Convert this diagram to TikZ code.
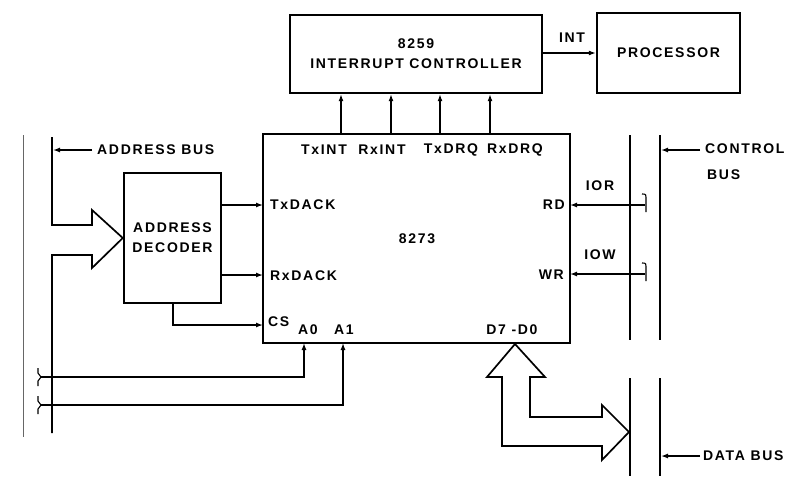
\documentclass[tikz,border=0pt]{standalone}
\usepackage{fontspec}
\setmainfont{Liberation Sans}[LetterSpace=12]
\usetikzlibrary{arrows.meta}
\newcommand\lblfont{\fontsize{14}{20}\selectfont\bfseries}
\tikzset{
  box/.style={draw, line width=2.4pt, inner sep=0pt},
  wire/.style={line width=1.3pt},
  arr/.style={wire, -{Latex[length=7pt,width=5pt]}},
  lbl/.style={font=\lblfont, inner sep=0pt},
  bus/.style={line width=1.7pt},
  hollow/.style={line width=1.7pt, line join=miter},
  brk/.style={line width=1.1pt}
}
\begin{document}
\begin{tikzpicture}[x=1pt,y=-1pt]
\useasboundingbox (0,0) rectangle (806,479);

% boxes
\node[box, minimum width=252pt, minimum height=78pt, align=center, font=\lblfont] (pic) at (416,54) {8259\\INTERRUPT CONTROLLER};
\node[box, minimum width=143pt, minimum height=80pt, font=\lblfont] (proc) at (668.5,53) {PROCESSOR};
\node[box, minimum width=307pt, minimum height=209pt] (uart) at (416.5,238.5) {};
\node[box, minimum width=97pt, minimum height=130pt, align=center, font=\lblfont] (dec) at (172.5,238) {ADDRESS\\DECODER};

\node[lbl] (n8273) at (417,239) {8273};

% INT
\draw[arr] (pic.east |- proc.west) -- (proc.west);
\node[lbl] (intl) at (572,38) {INT};

% upward interrupt / DRQ lines
\foreach \x/\n in {341/a,391/b,440/c,490/d}{
  \coordinate (up\n) at (\x,134);
  \draw[arr] (up\n) -- (up\n |- pic.south);
}
\node[lbl] (txint) at (324,150) {TxINT};
\node[lbl] (rxint) at (382,150) {RxINT};
\node[lbl] (txdrq) at (451,150) {TxDRQ};
\node[lbl] (rxdrq) at (515,150) {RxDRQ};

% decoder outputs
\coordinate (txd) at (263,205);
\coordinate (rxd) at (263,275);
\coordinate (cs) at (263,325);
\draw[arr] (dec.east |- txd) -- (txd);
\draw[arr] (dec.east |- rxd) -- (rxd);
\draw[arr] (173,303) -- (173,325) -- (cs);
\node[lbl, anchor=west] (txdack) at (270,205) {TxDACK};
\node[lbl, anchor=west] (rxdack) at (270,276) {RxDACK};
\node[lbl, anchor=west] (csl) at (268,322) {CS};
\node[lbl] (a0l) at (308,330) {A0};
\node[lbl] (a1l) at (344,330) {A1};
\node[lbl] (dl) at (512,330) {D7 -D0};

% address bus
\draw[line width=0.9pt, black!60] (23,135) -- (23,437);
\coordinate (ab1) at (52,137);
\coordinate (ab2) at (52,433);
\draw[hollow] (ab1) -- (52,225) -- (92,225) -- (92,210) -- (dec.west) -- (92,268) -- (92,255) -- (52,255) -- (ab2);
\coordinate (abl) at (92,150);
\draw[arr] (abl) -- (53,150);
\node[lbl, anchor=west] (abus) at (97,150) {ADDRESS BUS};

% A0, A1
\coordinate (a0s) at (40,377);
\coordinate (a1s) at (40,405);
\draw[arr] (a0s) -- (304,377) -- (304,343);
\draw[arr] (a1s) -- (343,405) -- (343,343);
\draw[brk] (38,368) -- (38,373) -- (41,377) -- (38,381) -- (38,386);
\draw[brk] (38,396) -- (38,401) -- (41,405) -- (38,409) -- (38,414);

% control bus
\draw[bus] (630,135) -- (630,340);
\draw[bus] (660,135) -- (660,340);
\draw[arr] (700,150) -- (661,150);
\node[lbl, anchor=west] (cbus1) at (705,149) {CONTROL};
\node[lbl, anchor=west] (cbus2) at (707,175) {BUS};

% RD, WR
\coordinate (rdp) at (570,205);
\coordinate (wrp) at (570,274);
\draw[arr] (645,205) -- (rdp);
\draw[arr] (645,274) -- (wrp);
\draw[brk] (642,194) .. controls (646,194) .. (646,200) -- (646,212);
\draw[brk] (642,263) .. controls (646,263) .. (646,269) -- (646,281);
\node[lbl, anchor=east] (rdl) at (565,205) {RD};
\node[lbl, anchor=east] (wrl) at (564,275) {WR};
\node[lbl] (iorl) at (600,186) {IOR};
\node[lbl] (iowl) at (600,255) {IOW};

% data bus
\draw[bus] (630,378) -- (630,476);
\draw[bus] (660,378) -- (660,476);
\draw[arr] (700,456) -- (661,456);
\node[lbl, anchor=west] (dbus) at (703,456) {DATA BUS};
\draw[hollow] (502,377) -- (487,377) -- (515,344) -- (545,377) -- (530,377) -- (530,417) -- (602,417) -- (602,405) -- (629,432) -- (602,460) -- (602,446) -- (502,446) -- cycle;
\end{tikzpicture}
\end{document}
